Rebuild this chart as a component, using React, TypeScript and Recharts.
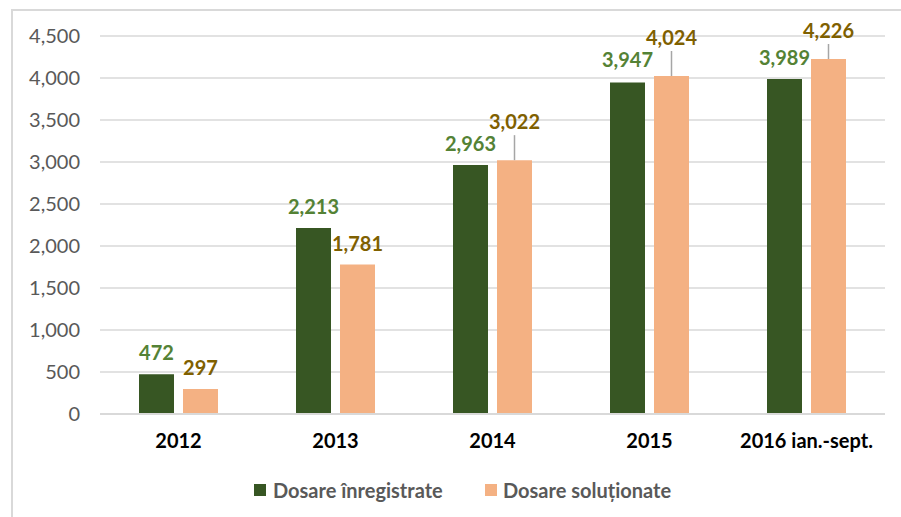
import React from 'react';
import { BarChart, Bar, XAxis, YAxis, CartesianGrid, Legend, LabelList } from 'recharts';

// date
const categories = ['2012', '2013', '2014', '2015', '2016 ian.-sept.'];
const inregistrate = [472, 2213, 2963, 3947, 3989];
const solutionate = [297, 1781, 3022, 4024, 4226];
const yTicks = [0, 500, 1000, 1500, 2000, 2500, 3000, 3500, 4000, 4500];

const data = categories.map((name, i) => ({
  name,
  inregistrate: inregistrate[i],
  solutionate: solutionate[i],
}));

const FONT = 'Lato, "Open Sans", sans-serif';
const fmt = (v: number) => v.toLocaleString('en-US');

// cat de sus sta eticheta fata de bara (unele au linie de legatura)
const greenLift = [22, 22, 22, 23, 22];
const peachLift = [22, 21, 39, 39, 29];

const makeLabel = (color: string, lifts: number[]) => (props: any) => {
  const { x, y, width, value, index } = props;
  const cx = Number(x) + Number(width) / 2;
  const top = Number(y);
  const lift = lifts[index] ?? 22;
  const cy = top - lift;
  return (
    <g>
      {lift > 25 && (
        <line x1={cx} x2={cx} y1={cy + 14} y2={top} stroke="#a6a6a6" strokeWidth={1.5} />
      )}
      <text
        x={cx}
        y={cy}
        textAnchor="middle"
        dominantBaseline="central"
        fill={color}
        fontFamily={FONT}
        fontWeight={700}
        fontSize={20}
      >
        {fmt(value)}
      </text>
    </g>
  );
};

const LegendContent = () => (
  <div
    style={{
      display: 'flex',
      alignItems: 'center',
      height: 24,
      marginLeft: 244,
      fontFamily: FONT,
      fontWeight: 700,
      fontSize: 20,
      color: '#595959',
    }}
  >
    <div style={{ display: 'flex', alignItems: 'center', width: 231 }}>
      <span style={{ width: 12, height: 12, background: '#375623', marginRight: 7 }} />
      Dosare înregistrate
    </div>
    <div style={{ display: 'flex', alignItems: 'center' }}>
      <span style={{ width: 12, height: 12, background: '#F4B183', marginRight: 6 }} />
      Dosare soluționate
    </div>
  </div>
);

export default function App() {
  return (
    <div style={{ position: 'fixed', left: 0, top: 0, width: 901, height: 517, background: '#fff' }}>
      <div
        style={{
          position: 'absolute',
          left: 11,
          top: 9,
          width: 900,
          height: 520,
          border: '2px solid #d9d9d9',
        }}
      />
      <div style={{ position: 'absolute', left: 0, top: 0 }}>
        <BarChart
          width={901}
          height={517}
          data={data}
          margin={{ top: 36, right: 16, left: 10, bottom: 15 }}
          barSize={35}
          barGap={9}
        >
          <CartesianGrid vertical={false} stroke="#d9d9d9" strokeWidth={1.5} />
          <XAxis
            dataKey="name"
            height={64}
            tickLine={false}
            tickSize={0}
            tickMargin={20}
            axisLine={{ stroke: '#d9d9d9', strokeWidth: 2 }}
            tick={{ fill: '#000', fontFamily: FONT, fontWeight: 700, fontSize: 20 }}
          />
          <YAxis
            width={90}
            domain={[0, 4500]}
            ticks={yTicks}
            interval={0}
            tickLine={false}
            axisLine={false}
            tickSize={0}
            tickMargin={20}
            tickFormatter={fmt}
            tick={{ fill: '#595959', fontFamily: FONT, fontSize: 20 }}
          />
          <Legend verticalAlign="bottom" content={<LegendContent />} />
          <Bar dataKey="inregistrate" name="Dosare înregistrate" fill="#375623" isAnimationActive={false}>
            <LabelList dataKey="inregistrate" content={makeLabel('#548235', greenLift)} />
          </Bar>
          <Bar dataKey="solutionate" name="Dosare soluționate" fill="#F4B183" isAnimationActive={false}>
            <LabelList dataKey="solutionate" content={makeLabel('#7F6000', peachLift)} />
          </Bar>
        </BarChart>
      </div>
    </div>
  );
}
